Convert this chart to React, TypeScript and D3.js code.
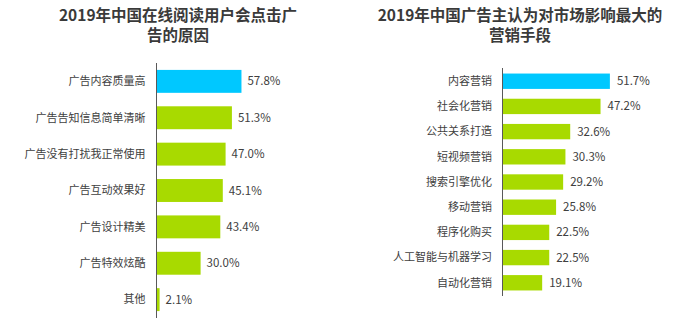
import React from "react";
import * as d3 from "d3";

const leftTitle = ["2019年中国在线阅读用户会点击广", "告的原因"];
const leftCategories = ["广告内容质量高", "广告告知信息简单清晰", "广告没有打扰我正常使用", "广告互动效果好", "广告设计精美", "广告特效炫酷", "其他"];
const leftValues = [57.8, 51.3, 47.0, 45.1, 43.4, 30.0, 2.1];

const rightTitle = ["2019年中国广告主认为对市场影响最大的", "营销手段"];
const rightCategories = ["内容营销", "社会化营销", "公共关系打造", "短视频营销", "搜索引擎优化", "移动营销", "程序化购买", "人工智能与机器学习", "自动化营销"];
const rightValues = [51.7, 47.2, 32.6, 30.3, 29.2, 25.8, 22.5, 22.5, 19.1];

const CYAN = "#00C8FF";
const GREEN = "#A8DA00";
const TEXT = "#404040";
const FONT = "'Noto Sans CJK SC', 'Noto Sans', sans-serif";

type PanelProps = {
  title: string[];
  cats: string[];
  vals: number[];
  axisX: number;
  pxPerPct: number;
  yTop: number;
  yBottom: number;
  padInner: number;
  padOuter: number;
  titleX: number;
  labelGap: number;
  valueGap: number;
};

function Panel(p: PanelProps) {
  const x = d3.scaleLinear().domain([0, 100]).range([p.axisX, p.axisX + p.pxPerPct * 100]);
  const y = d3
    .scaleBand<string>()
    .domain(p.cats)
    .range([p.yTop, p.yBottom])
    .paddingInner(p.padInner)
    .paddingOuter(p.padOuter);
  return (
    <g>
      <text x={p.titleX} y={21} textAnchor="middle" fontSize={15.5} fontWeight="bold" fill="#3a3a3a" fontFamily={FONT}>
        {p.title[0]}
      </text>
      <text x={p.titleX} y={41} textAnchor="middle" fontSize={15.5} fontWeight="bold" fill="#3a3a3a" fontFamily={FONT}>
        {p.title[1]}
      </text>
      {p.cats.map((c, i) => {
        const yy = y(c)!;
        const bw = y.bandwidth();
        const xe = x(p.vals[i]);
        return (
          <g key={c}>
            <rect x={p.axisX} y={yy} width={xe - p.axisX} height={bw} fill={i === 0 ? CYAN : GREEN} />
            <text
              x={p.axisX - p.labelGap}
              y={yy + bw / 2}
              dy="0.35em"
              textAnchor="end"
              fontSize={11}
              fill={TEXT}
              fontFamily={FONT}
            >
              {c}
            </text>
            <text x={xe + p.valueGap} y={yy + bw / 2} dy="0.35em" fontSize={11.5} fill={TEXT} fontFamily={FONT}>
              {p.vals[i].toFixed(1) + "%"}
            </text>
          </g>
        );
      })}
      <line x1={p.axisX} x2={p.axisX} y1={p.yTop} y2={p.yBottom} stroke="#595959" strokeWidth={1} />
    </g>
  );
}

export default function App() {
  return (
    <svg
      width={692}
      height={325}
      style={{ position: "absolute", left: 0, top: 0, display: "block", background: "#fff" }}
    >
      <Panel
        title={leftTitle}
        cats={leftCategories}
        vals={leftValues}
        axisX={156.5}
        pxPerPct={1.47}
        yTop={63}
        yBottom={318}
        padInner={0.37}
        padOuter={0.19}
        titleX={178}
        labelGap={11}
        valueGap={6}
      />
      <Panel
        title={rightTitle}
        cats={rightCategories}
        vals={rightValues}
        axisX={502.5}
        pxPerPct={2.077}
        yTop={68}
        yBottom={296}
        padInner={0.39}
        padOuter={0.22}
        titleX={520}
        labelGap={10.5}
        valueGap={7}
      />
    </svg>
  );
}
